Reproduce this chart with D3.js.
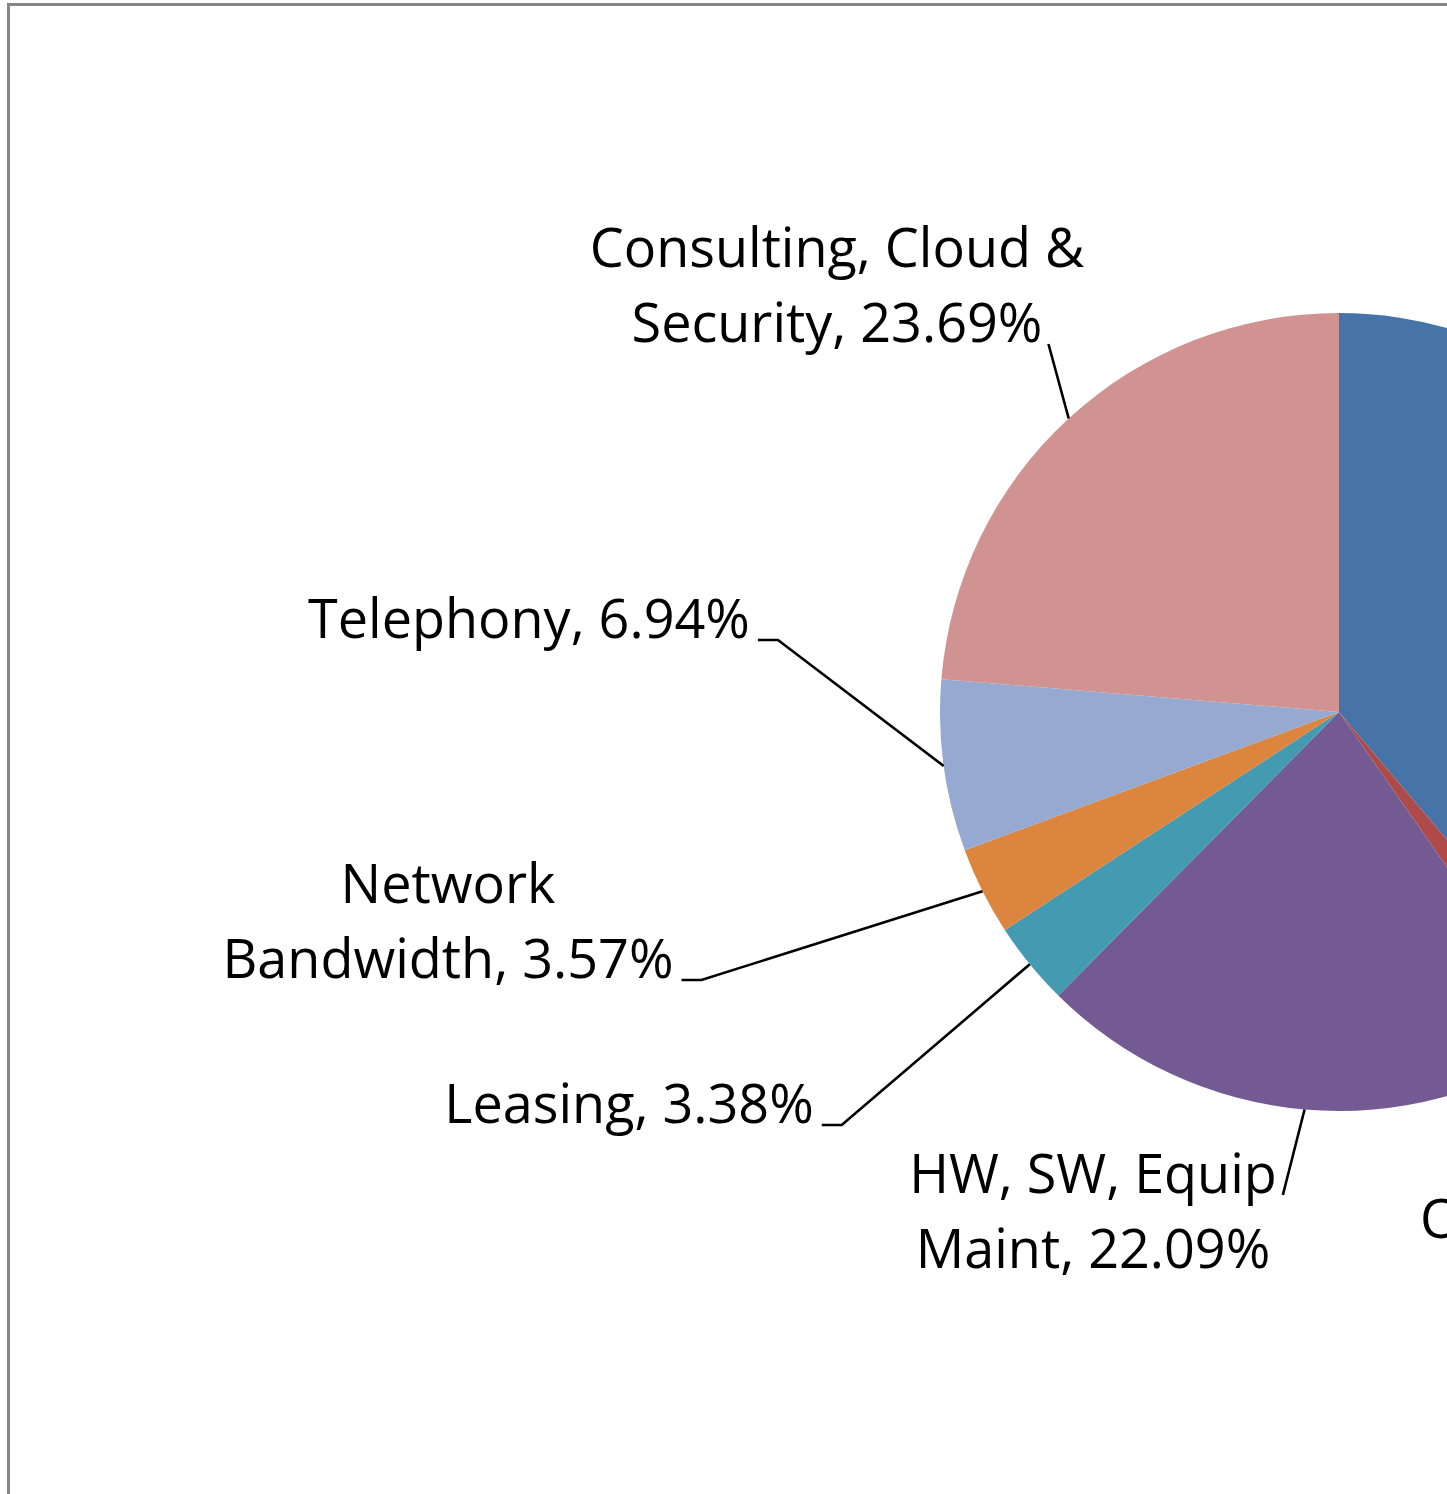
<!DOCTYPE html>
<html lang="en">
<head>
<meta charset="UTF-8">
<title>IT Spend Breakdown</title>
<script src="https://cdn.jsdelivr.net/npm/d3@7"></script>
<style>
    html, body {
        margin: 0;
        padding: 0;
        background: #ffffff;
        overflow: hidden;
    }
    #chart text {
        font-family: "Open Sans", "Noto Sans", sans-serif;
        fill: #000;
    }
</style>
</head>
<body>
<div id="chart"></div>
<script>
// slices, clockwise from 12 o'clock
const categories = ["Personnel", "Other", "HW, SW, Equip Maint", "Leasing",
    "Network Bandwidth", "Telephony", "Consulting, Cloud & Security"];
const shares = [38.83, 1.50, 22.09, 3.38, 3.57, 6.94, 23.69];
// where each label wraps ("|" = line break)
const labelWraps = ["Personnel", "Other", "HW, SW, Equip|Maint", "Leasing",
    "Network|Bandwidth", "Telephony", "Consulting, Cloud &|Security"];
const sliceColors = ["#4674a9", "#ae4b48", "#735a92", "#449ab1",
    "#dc853f", "#96a9d0", "#d19392"];

// label placement (px from pie centre, first baseline) and leader style
const labelLayout = [
    { dx: 600, dy: -200, attach: "last", tick: true },
    { dx: 244, dy: 526, attach: "first", tick: false },
    { dx: -246, dy: 481, attach: "first", tick: false },
    { dx: -710, dy: 411, attach: "last", tick: true },
    { dx: -891, dy: 191, attach: "last", tick: true },
    { dx: -810, dy: -74, attach: "last", tick: true },
    { dx: -502, dy: -445, attach: "last", tick: false }
];

const W = 1447, H = 1494;
const cx = 1339, cy = 712, R = 399;
const lineGap = 75;

const data = categories.map((c, i) => ({
    name: c,
    value: shares[i],
    color: sliceColors[i],
    lines: (labelWraps[i] + ", " + d3.format(".2f")(shares[i]) + "%").split("|"),
    layout: labelLayout[i]
}));

const svg = d3.select("#chart").append("svg")
    .attr("width", W)
    .attr("height", H);

// chart frame (runs off the right and bottom of the picture)
svg.append("rect")
    .attr("x", 8.5)
    .attr("y", 4.5)
    .attr("width", 2600)
    .attr("height", 2000)
    .attr("fill", "#fff")
    .attr("stroke", "#878787")
    .attr("stroke-width", 3);

// fit the font so label widths match Calibri's
const probe = svg.append("text").attr("font-size", 100).text("Telephony, 6.94%");
const fontSize = 100 * 442 / probe.node().getComputedTextLength();
probe.remove();

const g = svg.append("g").attr("transform", `translate(${cx},${cy})`);

const pie = d3.pie().sort(null).value(d => d.value);
const arc = d3.arc().innerRadius(0).outerRadius(R);
const arcs = pie(data);

g.selectAll("path.slice")
    .data(arcs)
    .join("path")
    .attr("class", "slice")
    .attr("d", arc)
    .attr("fill", d => d.data.color);

const labels = g.selectAll("g.label")
    .data(arcs)
    .join("g")
    .attr("class", "label");

labels.each(function (d) {
    const lab = d3.select(this);
    const lay = d.data.layout;
    const widths = [];
    d.data.lines.forEach((line, k) => {
        const t = lab.append("text")
            .attr("x", lay.dx)
            .attr("y", lay.dy + k * lineGap)
            .attr("text-anchor", "middle")
            .attr("font-size", fontSize)
            .text(line);
        widths.push(t.node().getComputedTextLength());
    });

    const k = lay.attach === "first" ? 0 : d.data.lines.length - 1;
    const right = lay.dx + widths[k] / 2;
    const base = lay.dy + k * lineGap + 2;
    const mid = (d.startAngle + d.endAngle) / 2;
    const edge = [R * Math.sin(mid), -R * Math.cos(mid)];

    const pts = lay.tick
        ? [[right + 8, base], [right + 28, base], edge]
        : [[right + 6, base], edge];

    lab.append("path")
        .attr("d", d3.line()(pts))
        .attr("fill", "none")
        .attr("stroke", "#000")
        .attr("stroke-width", 2.6);
});
</script>
</body>
</html>
